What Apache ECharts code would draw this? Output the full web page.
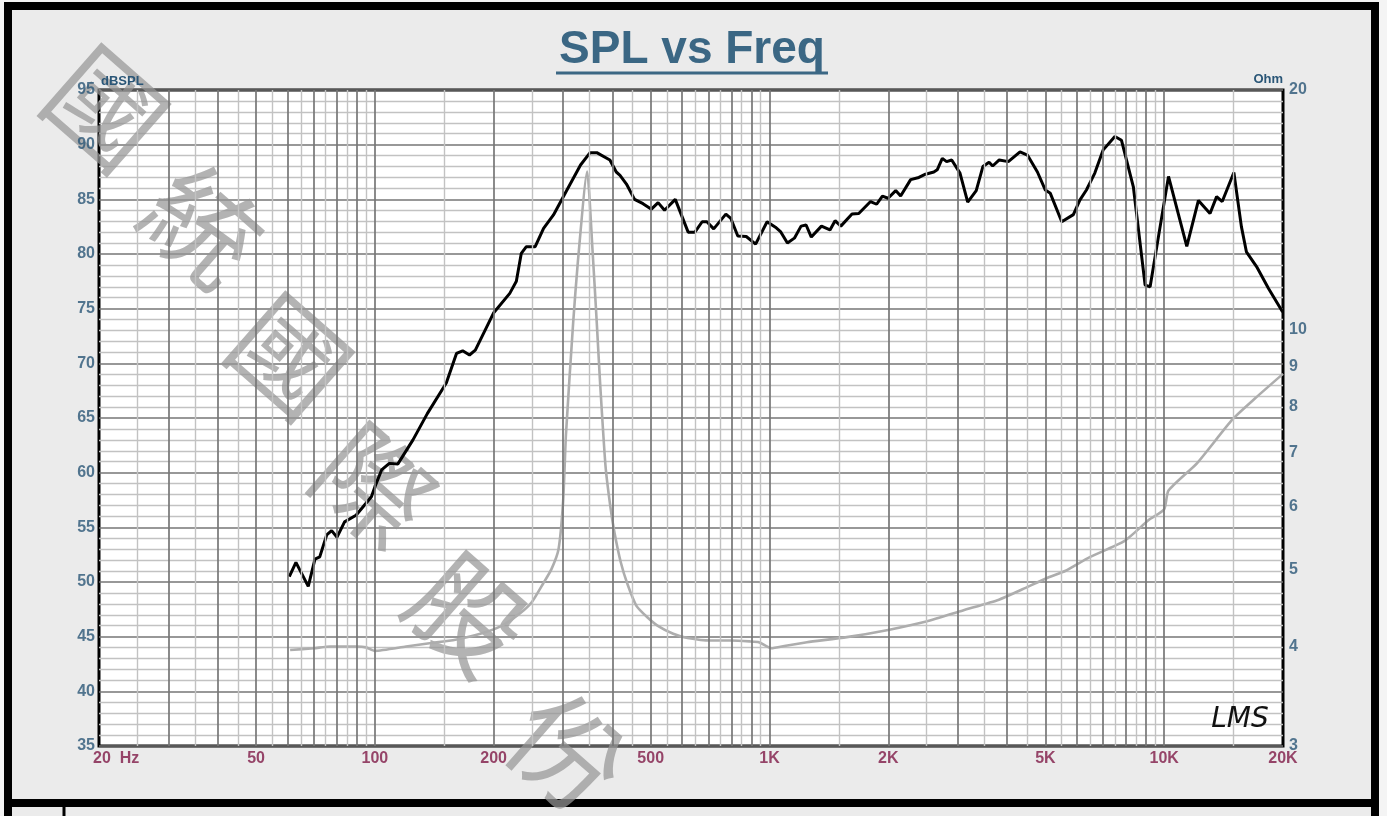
<!DOCTYPE html>
<html>
<head>
<meta charset="utf-8">
<script src="https://cdn.jsdelivr.net/npm/echarts@6/dist/echarts.min.js"></script>
<style>
  html, body { margin: 0; padding: 0; background: #f4f4f4; }
  #chart { width: 1387px; height: 816px; }
</style>
</head>
<body>
<div id="chart"></div>
<script>
// SPL curve (Hz, dBSPL)
const splFreq = [60.7, 63.1, 67.8, 70.5, 72.5, 75.5, 77.7, 80.2, 83.8, 89.6, 98, 100, 104, 108.8, 114.4, 124.9, 135.8, 151.7, 161, 166.9, 173.7, 179.7, 199.8, 219.7, 228.3, 235, 242, 254.8, 267.6, 283.5, 305, 332, 351, 365, 394, 409, 418, 434, 455, 478, 502, 522, 542, 577, 622, 647, 675, 694, 722, 775, 798, 831, 873, 922, 986, 1035, 1066, 1110, 1156, 1202, 1238, 1276, 1354, 1423, 1466, 1516, 1618, 1683, 1803, 1868, 1932, 1997, 2088, 2149, 2278, 2390, 2485, 2608, 2660, 2740, 2810, 2895, 3038, 3178, 3340, 3472, 3600, 3676, 3820, 4028, 4312, 4502, 4773, 4999, 5146, 5501, 5886, 6118, 6352, 6671, 6999, 7499, 7795, 8353, 8946, 9211, 10255, 11410, 12210, 13066, 13578, 14030, 15015, 15690, 16155, 17140, 18380, 19960];
const splDb = [50.5, 51.8, 49.6, 52.1, 52.3, 54.3, 54.7, 54.1, 55.5, 56.1, 57.8, 58.7, 60.25, 60.85, 60.8, 63.0, 65.4, 68.2, 70.9, 71.15, 70.76, 71.2, 74.6, 76.4, 77.5, 80.06, 80.67, 80.67, 82.35, 83.57, 85.7, 88.14, 89.27, 89.27, 88.6, 87.5, 87.2, 86.4, 85.0, 84.6, 84.1, 84.7, 84.0, 85.0, 82.0, 82.0, 82.95, 82.95, 82.3, 83.65, 83.25, 81.65, 81.6, 80.9, 82.95, 82.45, 82.05, 81.0, 81.45, 82.55, 82.65, 81.55, 82.55, 82.2, 83.05, 82.55, 83.65, 83.7, 84.8, 84.55, 85.3, 85.1, 85.8, 85.3, 86.8, 87.0, 87.3, 87.5, 87.7, 88.75, 88.45, 88.6, 87.4, 84.75, 85.8, 88.0, 88.4, 88.05, 88.6, 88.45, 89.35, 89.05, 87.5, 85.85, 85.55, 82.95, 83.6, 84.95, 85.85, 87.4, 89.5, 90.75, 90.4, 86.15, 77.15, 77.0, 87.1, 80.7, 84.9, 83.7, 85.25, 84.8, 87.45, 82.5, 80.2, 78.85, 76.85, 74.7];

// impedance curve (Hz, Ohm)
const impFreq = [61, 70, 77, 90, 95, 100, 120, 139, 160, 185, 210, 233, 250, 267, 280, 292, 300, 305, 318, 327, 345, 356, 365, 372, 384, 395, 405, 420, 436, 460, 491, 520, 570, 620, 710, 800, 889, 940, 1010, 1100, 1244, 1570, 2013, 2496, 3090, 3813, 4374, 5066, 5629, 6427, 7940, 9150, 10000, 10255, 12120, 14910, 17000, 20000];
const impOhm = [3.96, 3.98, 4.0, 4.0, 3.99, 3.95, 4.0, 4.04, 4.08, 4.15, 4.25, 4.4, 4.55, 4.8, 5.0, 5.3, 6.1, 7.4, 10.2, 12.2, 15.8, 12.6, 10.2, 8.6, 6.75, 6.0, 5.55, 5.1, 4.8, 4.5, 4.35, 4.25, 4.15, 4.1, 4.07, 4.07, 4.06, 4.05, 3.98, 4.01, 4.05, 4.11, 4.2, 4.3, 4.44, 4.58, 4.72, 4.88, 4.98, 5.17, 5.43, 5.77, 5.95, 6.28, 6.8, 7.72, 8.2, 8.8];

// tick labels
const freqTicks = [20, 50, 100, 200, 500, 1000, 2000, 5000, 10000, 20000];
const freqTickLabels = ['20  Hz', '50', '100', '200', '500', '1K', '2K', '5K', '10K', '20K'];
const dbTicks = [35, 40, 45, 50, 55, 60, 65, 70, 75, 80, 85, 90, 95];
const ohmTicks = [3, 4, 5, 6, 7, 8, 9, 10, 20];
const ohmTickLabels = ['3', '4', '5', '6', '7', '8', '9', '10', '20'];

const watermarkChars = ['國', '統', '國', '際', '股', '份'];

const chart = echarts.init(document.getElementById('chart'));

// vertical log grid lines: dark at k*10^n, light at (k+0.5)*10^n
const vLines = [];
[10, 100, 1000, 10000].forEach(dec => {
  for (let k = 1; k <= 9; k++) {
    const dark = k * dec, light = (k + 0.5) * dec;
    if (dark > 20 && dark < 20000) vLines.push({ xAxis: dark, lineStyle: { color: '#767676', width: 1.7, type: 'solid' } });
    if (light > 20 && light < 20000) vLines.push({ xAxis: light, lineStyle: { color: '#c2c2c2', width: 1.4, type: 'solid' } });
  }
});

const labelFont = '"Liberation Sans", Arial, sans-serif';
const blueText = '#2a5677';
const redText = '#801a47';
const wmPos = [[106, 108], [203, 226], [290, 356], [374, 486], [468, 614], [568, 752]];

const option = {
  backgroundColor: '#f4f4f4',
  animation: false,
  grid: {
    left: 99, right: 104, top: 90, bottom: 70,
    show: true, backgroundColor: '#ffffff', borderColor: '#000', borderWidth: 3
  },
  xAxis: {
    type: 'log', logBase: 10, min: 20, max: 20000,
    axisLine: { show: false }, axisTick: { show: false },
    axisLabel: { show: false }, splitLine: { show: false }
  },
  yAxis: [
    {
      type: 'value', min: 35, max: 95, interval: 5,
      axisLine: { show: false }, axisTick: { show: false },
      axisLabel: { show: false },
      splitLine: { show: true, lineStyle: { color: '#767676', width: 1.7 } },
      minorTick: { show: false, splitNumber: 5 },
      minorSplitLine: { show: true, lineStyle: { color: '#c2c2c2', width: 1.4 } }
    },
    {
      type: 'log', logBase: 10, min: 3, max: 20, position: 'right',
      axisLine: { show: false }, axisTick: { show: false },
      axisLabel: { show: false }, splitLine: { show: false }
    }
  ],
  series: [
    {
      // grid lines
      type: 'line', data: [], silent: true, z: 1,
      markLine: { silent: true, symbol: 'none', label: { show: false }, data: vLines, animation: false }
    },
    {
      name: 'Impedance', type: 'line', yAxisIndex: 1, z: 3,
      data: impFreq.map((f, i) => [f, impOhm[i]]),
      showSymbol: false, smooth: 0.2,
      lineStyle: { color: '#adadad', width: 2.6 }
    },
    {
      name: 'SPL', type: 'line', yAxisIndex: 0, z: 4,
      data: splFreq.map((f, i) => [f, splDb[i]]),
      showSymbol: false,
      lineStyle: { color: '#000000', width: 3 }
    },
    {
      // frequency tick labels
      type: 'scatter', symbolSize: 0, clip: false, silent: true, yAxisIndex: 0, z: 40,
      data: freqTicks.map((f, i) => ({
        value: [f, 35],
        label: i === 0 ? { align: 'left', offset: [-6, 0] } : {}
      })),
      label: {
        show: true, position: 'bottom', distance: 5,
        formatter: p => freqTickLabels[p.dataIndex],
        color: redText, fontWeight: 'bold', fontSize: 16, fontFamily: labelFont
      }
    },
    {
      // dB tick labels
      type: 'scatter', symbolSize: 0, clip: false, silent: true, yAxisIndex: 0, z: 40,
      data: dbTicks.map(d => [20, d]),
      label: {
        show: true, position: 'left', distance: 4,
        formatter: p => String(dbTicks[p.dataIndex]),
        color: blueText, fontWeight: 'bold', fontSize: 16, fontFamily: labelFont
      }
    },
    {
      // impedance tick labels
      type: 'scatter', symbolSize: 0, clip: false, silent: true, yAxisIndex: 1, z: 40,
      data: ohmTicks.map(o => [20000, o]),
      label: {
        show: true, position: 'right', distance: 6,
        formatter: p => ohmTickLabels[p.dataIndex],
        color: blueText, fontWeight: 'bold', fontSize: 16, fontFamily: labelFont
      }
    }
  ],
  graphic: [
    { type: 'rect', z: -10, shape: { x: 8, y: 6, width: 1367, height: 797 }, style: { fill: '#ebebeb', stroke: '#000', lineWidth: 8 } },
    { type: 'rect', z: -10, shape: { x: 8, y: 803, width: 1367, height: 30 }, style: { fill: '#ebebeb', stroke: '#000', lineWidth: 8 } },
    { type: 'line', z: -9, shape: { x1: 64, y1: 805, x2: 64, y2: 816 }, style: { stroke: '#000', lineWidth: 3 } },
    { type: 'text', z: 20, x: 692, y: 50, style: { text: 'SPL vs Freq', fill: '#3b6784', font: 'bold 46px "Liberation Sans", Arial, sans-serif', textAlign: 'center', textVerticalAlign: 'middle' } },
    { type: 'line', z: 20, shape: { x1: 556, y1: 73, x2: 828, y2: 73 }, style: { stroke: '#3b6784', lineWidth: 3 } },
    { type: 'text', z: 40, x: 101, y: 88, style: { text: 'dBSPL', fill: blueText, font: 'bold 13px "Liberation Sans", Arial, sans-serif', textAlign: 'left', textVerticalAlign: 'bottom' } },
    { type: 'text', z: 40, x: 1283, y: 86, style: { text: 'Ohm', fill: blueText, font: 'bold 13px "Liberation Sans", Arial, sans-serif', textAlign: 'right', textVerticalAlign: 'bottom' } },
    { type: 'text', z: 20, x: 1240, y: 720, style: { text: 'LMS', fill: '#111', font: 'italic 28px "DejaVu Sans", sans-serif', textAlign: 'center', textVerticalAlign: 'middle' } }
  ].concat(watermarkChars.map((c, i) => ({
    type: 'text', z: 2, silent: true, x: wmPos[i][0], y: wmPos[i][1], rotation: -0.72,
    style: { text: c, fill: 'rgba(150,150,150,0.72)', font: '112px "Noto Sans CJK TC", sans-serif', textAlign: 'center', textVerticalAlign: 'middle' }
  })))
};

chart.setOption(option);
</script>
</body>
</html>
